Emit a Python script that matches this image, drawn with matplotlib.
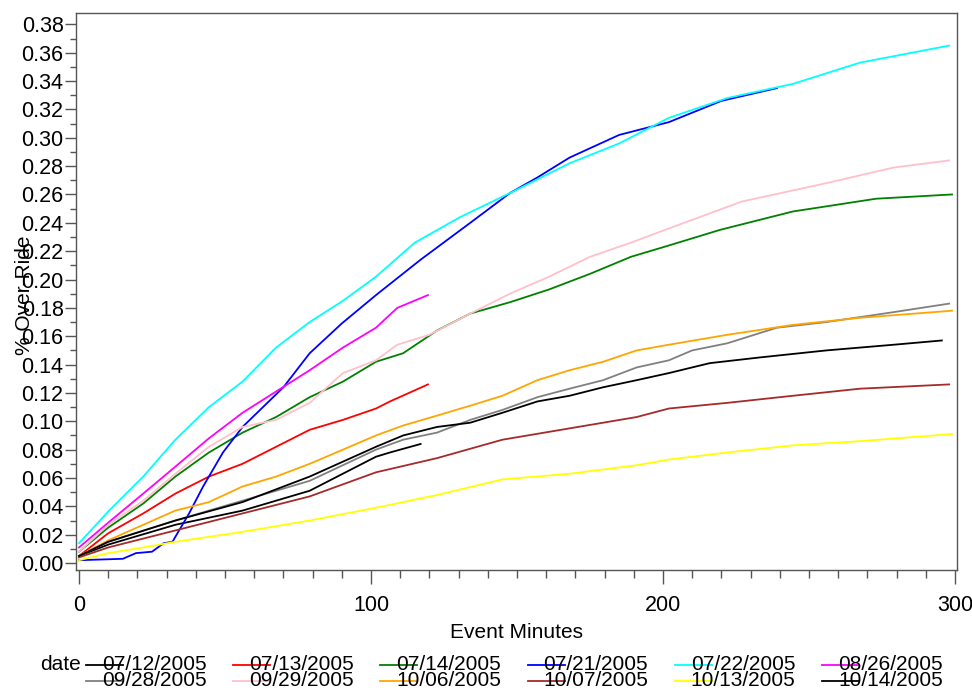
import matplotlib
matplotlib.use("Agg")
import matplotlib.pyplot as plt
from matplotlib.lines import Line2D
from matplotlib.ticker import MultipleLocator, FormatStrFormatter

plt.rcParams['font.family'] = ['Liberation Sans', 'DejaVu Sans']

dates = ["07/12/2005", "07/13/2005", "07/14/2005", "07/21/2005", "07/22/2005", "08/26/2005",
         "09/28/2005", "09/29/2005", "10/06/2005", "10/07/2005", "10/13/2005", "10/14/2005"]
colors = ["black", "red", "green", "blue", "cyan", "magenta",
          "gray", "pink", "orange", "brown", "yellow", "black"]

x_0712 = [0, 10, 33, 56, 79, 101.7, 106.5, 117]
y_0712 = [0.005, 0.013, 0.027, 0.037, 0.051, 0.075, 0.078, 0.084]

x_0713 = [0, 10, 22, 33, 44.5, 56, 67.5, 79, 90.4, 101.7, 106.5, 113, 119.5]
y_0713 = [0.005, 0.021, 0.035, 0.049, 0.061, 0.070, 0.082, 0.094, 0.101, 0.109, 0.114, 0.120, 0.126]

x_0714 = [0, 10, 22, 33, 44.5, 56, 67.5, 79, 90.4, 101.7, 111, 122.6, 134, 147.6, 161, 175, 189, 202,
          219.5, 244.5, 273, 299]
y_0714 = [0.008, 0.025, 0.042, 0.061, 0.078, 0.092, 0.103, 0.117, 0.128, 0.142, 0.148, 0.164, 0.176,
          0.184, 0.193, 0.204, 0.216, 0.224, 0.235, 0.248, 0.257, 0.260]

x_0721 = [0, 15, 19.5, 25, 29, 32, 37.7, 42.5, 49.3, 56, 63, 70, 79, 90, 101.7, 117, 134, 147.6, 157,
          168, 185, 202, 220, 239]
y_0721 = [0.002, 0.003, 0.007, 0.008, 0.014, 0.015, 0.035, 0.054, 0.078, 0.096, 0.110, 0.124, 0.148,
          0.169, 0.189, 0.214, 0.240, 0.261, 0.272, 0.286, 0.302, 0.311, 0.326, 0.335]

x_0722 = [0, 10.3, 22, 33, 44.5, 56, 67.5, 79, 90.4, 101.7, 115, 130.5, 147.6, 168, 185, 202, 222,
          244.5, 267.5, 298]
y_0722 = [0.014, 0.037, 0.061, 0.087, 0.110, 0.128, 0.152, 0.170, 0.185, 0.202, 0.226, 0.244, 0.261,
          0.282, 0.296, 0.314, 0.328, 0.338, 0.353, 0.365]

x_0826 = [0, 10.3, 22, 33, 44.5, 56, 67.5, 79, 90.4, 101.7, 109, 119.5]
y_0826 = [0.011, 0.029, 0.049, 0.068, 0.088, 0.106, 0.121, 0.136, 0.152, 0.166, 0.180, 0.189]

x_0928 = [0, 10, 33, 56, 79, 101.7, 111, 122.6, 134, 145, 157, 168, 179.5, 191, 202, 210, 222, 239,
          256, 279, 298]
y_0928 = [0.005, 0.015, 0.030, 0.044, 0.058, 0.080, 0.087, 0.092, 0.101, 0.108, 0.117, 0.123, 0.129,
          0.138, 0.143, 0.150, 0.155, 0.166, 0.170, 0.177, 0.183]

x_0929 = [0, 10, 22, 33, 44.5, 56, 67.5, 79, 90.4, 101.7, 109, 120, 134, 147.6, 161, 175, 189, 202,
          227, 256, 279, 298]
y_0929 = [0.008, 0.027, 0.044, 0.063, 0.082, 0.096, 0.101, 0.113, 0.134, 0.143, 0.154, 0.161, 0.176,
          0.190, 0.202, 0.216, 0.226, 0.236, 0.255, 0.268, 0.279, 0.284]

x_1006 = [0, 10, 22, 33, 44.5, 56, 67.5, 79, 90.4, 101.7, 111, 122.6, 134, 145, 157, 168, 179.5, 191,
          202, 222, 244.5, 267.5, 299]
y_1006 = [0.005, 0.016, 0.027, 0.037, 0.043, 0.054, 0.061, 0.070, 0.080, 0.090, 0.097, 0.104, 0.111,
          0.118, 0.129, 0.136, 0.142, 0.150, 0.154, 0.161, 0.168, 0.173, 0.178]

x_1007 = [0, 10, 33, 56, 79, 101.7, 122.6, 145, 168, 191, 202, 222, 244.5, 267.5, 298]
y_1007 = [0.004, 0.011, 0.023, 0.035, 0.047, 0.064, 0.074, 0.087, 0.095, 0.103, 0.109, 0.113, 0.118,
          0.123, 0.126]

x_1013 = [0, 10, 22, 33, 56, 79, 101.7, 122.6, 145, 168, 191, 202, 222, 244.5, 267.5, 299]
y_1013 = [0.002, 0.007, 0.011, 0.015, 0.022, 0.030, 0.039, 0.048, 0.059, 0.063, 0.069, 0.073, 0.078,
          0.083, 0.086, 0.091]

x_1014 = [0, 10, 33, 56, 79, 101.7, 111, 122.6, 134, 145, 157, 168, 179.5, 191, 202, 216, 233, 256,
          279, 295.5]
y_1014 = [0.005, 0.015, 0.030, 0.043, 0.061, 0.082, 0.090, 0.096, 0.099, 0.106, 0.114, 0.118, 0.124,
          0.129, 0.134, 0.141, 0.145, 0.150, 0.154, 0.157]

xs = [x_0712, x_0713, x_0714, x_0721, x_0722, x_0826, x_0928, x_0929, x_1006, x_1007, x_1013, x_1014]
ys = [y_0712, y_0713, y_0714, y_0721, y_0722, y_0826, y_0928, y_0929, y_1006, y_1007, y_1013, y_1014]

W, H = 972, 691
fig = plt.figure(figsize=(W / 100, H / 100), dpi=100)
L, R, T, B = 76, 957, 13, 570
ax = fig.add_axes([L / W, 1 - B / H, (R - L) / W, (B - T) / H])

for x, y, c, d in zip(xs, ys, colors, dates):
    ax.plot(x, y, color=c, lw=1.3, label=d)

ax.set_xlim(-1.03, 300.7)
ax.set_ylim(-0.0049, 0.388)
ax.xaxis.set_major_locator(MultipleLocator(100))
ax.xaxis.set_minor_locator(MultipleLocator(10))
ax.yaxis.set_major_locator(MultipleLocator(0.02))
ax.yaxis.set_minor_locator(MultipleLocator(0.01))
ax.yaxis.set_major_formatter(FormatStrFormatter('%.2f'))

spine_c = '#555555'
for s in ax.spines.values():
    s.set_color(spine_c)
    s.set_linewidth(1.0)

FS = 15.5
ax.tick_params(axis='x', which='major', length=10, width=1, color=spine_c, labelsize=FS, pad=8)
ax.tick_params(axis='x', which='minor', length=6, width=1, color=spine_c)
ax.tick_params(axis='y', which='major', length=8, width=1, color=spine_c, labelsize=FS, pad=1)
ax.tick_params(axis='y', which='minor', length=4, width=1, color=spine_c)

ax.set_xlabel('Event Minutes', fontsize=15, va='center')
ax.xaxis.set_label_coords(0.5, (B - 633) / (B - T))
ax.set_ylabel('% Over-Ride', fontsize=15, va='center')
ax.yaxis.set_label_coords((24 - L) / (R - L), 0.5 - 4 / (B - T))

# legend (row-major, line sample overlapping label start)
fig.text(40 / W, 1 - 665 / H, 'date', fontsize=15, va='center', ha='left')
for i, (c, d) in enumerate(zip(colors, dates)):
    col, row = i % 6, i // 6
    x0 = 86 + col * 147.2
    yy = 665 + row * 15.5
    fig.add_artist(Line2D([x0 / W, (x0 + 37) / W], [1 - yy / H, 1 - yy / H],
                          transform=fig.transFigure, color=c, lw=1.3))
    fig.text((x0 + 16) / W, 1 - yy / H, d, fontsize=15, va='center', ha='left')

fig.savefig('out.png', dpi=100)
